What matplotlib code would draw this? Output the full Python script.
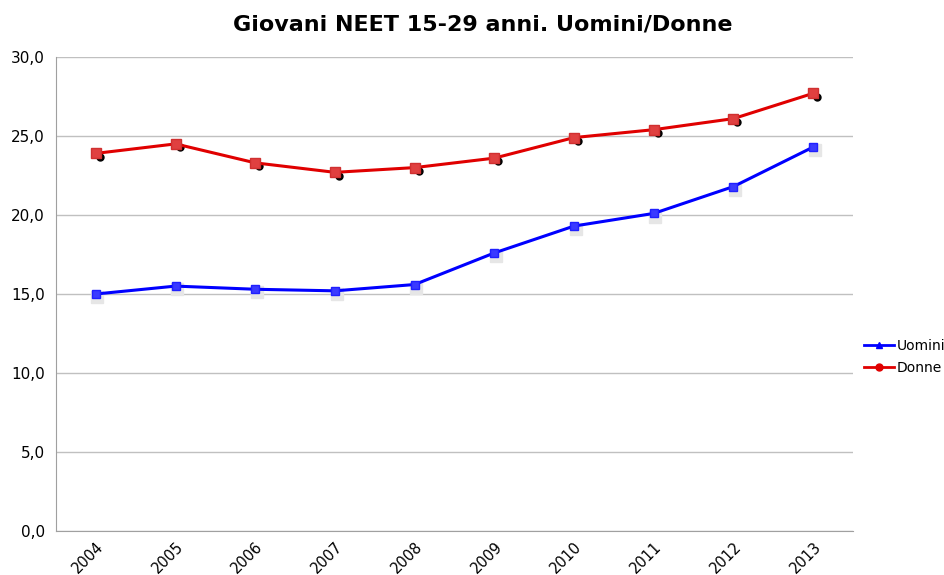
import matplotlib
matplotlib.use("Agg")
import matplotlib.pyplot as plt
from matplotlib.lines import Line2D

years = ["2004", "2005", "2006", "2007", "2008", "2009", "2010", "2011", "2012", "2013"]
uomini = [15.0, 15.5, 15.3, 15.2, 15.6, 17.6, 19.3, 20.1, 21.8, 24.3]
donne = [23.9, 24.5, 23.3, 22.7, 23.0, 23.6, 24.9, 25.4, 26.1, 27.7]
yticks = [0, 5, 10, 15, 20, 25, 30]

fig = plt.figure(figsize=(9.45, 5.75), dpi=100)
ax = fig.add_axes([56/945, 1-531/575, (853-56)/945, (531-57)/575])

x = list(range(len(years)))
# shadows
ax.plot([v + 0.05 for v in x], [v - 0.2 for v in donne], 'o', color='black', ms=5, zorder=2)
ax.plot([v + 0.02 for v in x], [v - 0.2 for v in uomini], 's', color='#e6e6e6', ms=9, zorder=2)

ax.plot(x, uomini, color='#0000ff', lw=2.2, marker='s', ms=6, mfc='#3a3aff', mec='#2020ff', zorder=3)
ax.plot(x, donne, color='#e00000', lw=2.2, marker='s', ms=7, mfc='#e04040', mec='#d03030', zorder=3)

ax.set_xlim(-0.5, len(years) - 0.5)
ax.set_ylim(0, 30)
ax.set_yticks(yticks)
ax.set_yticklabels([f"{v:.1f}".replace('.', ',') for v in yticks], fontsize=11)
ax.set_xticks(x)
ax.set_xticklabels(years, rotation=45, fontsize=10.5, ha='right', rotation_mode='anchor')
ax.tick_params(axis='both', length=0, pad=8)
ax.tick_params(axis='x', pad=6)
ax.grid(axis='y', color='#c0c0c0', lw=1)
ax.set_axisbelow(True)
for s in ['top', 'right']:
    ax.spines[s].set_visible(False)
ax.spines['left'].set_color('#a0a0a0')
ax.spines['bottom'].set_color('#a0a0a0')

handles = [Line2D([], [], color='#0000ff', lw=2, marker='^', ms=5),
           Line2D([], [], color='#e00000', lw=2, marker='o', ms=5)]
fig.legend(handles, ['Uomini', 'Donne'], loc='center left', bbox_to_anchor=(858/945, 1-357/575),
           frameon=False, fontsize=10, handlelength=2.2, handletextpad=0.2, borderaxespad=0, labelspacing=0.6)

fig.suptitle("Giovani NEET 15-29 anni. Uomini/Donne", x=483/945, y=0.975, fontsize=16, fontweight='bold')

fig.savefig("out.png", dpi=100)
